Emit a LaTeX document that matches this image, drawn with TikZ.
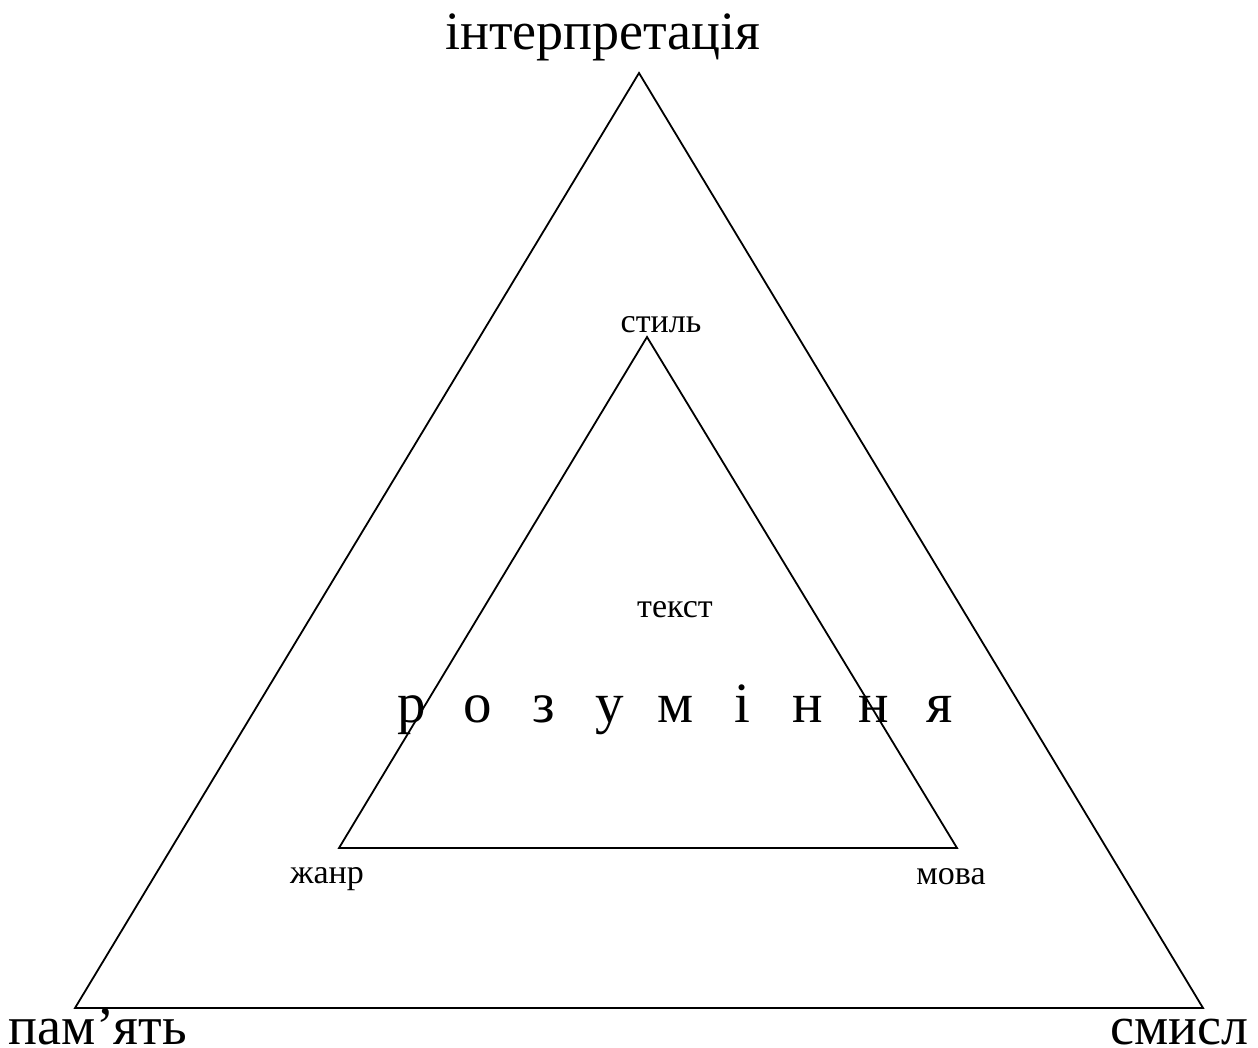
\documentclass[tikz,border=0pt]{standalone}
\usepackage{fontspec}
\setmainfont{Liberation Serif}
\tikzset{
  tri/.style={draw=black, line width=1.8pt, line join=miter},
  big/.style={anchor=base, inner sep=0pt, font=\fontsize{54}{60}\selectfont},
  small/.style={anchor=base, inner sep=0pt, font=\fontsize{34}{40}\selectfont},
  spread/.style={anchor=base, inner sep=0pt, font=\fontsize{57}{62}\selectfont}
}
\newcommand{\lb}[1]{\makebox[66pt][c]{#1}}
\begin{document}
\begin{tikzpicture}[x=1pt,y=-1pt]
\useasboundingbox (0,0) rectangle (1258,1048);
% outer triangle
\coordinate (oA) at (639,73);
\coordinate (oL) at (75,1008);
\coordinate (oR) at (1203,1008);
\draw[tri] (oA) -- (oL) -- (oR) -- cycle;
% inner triangle
\coordinate (iA) at (647,337);
\coordinate (iL) at (339,848);
\coordinate (iR) at (957,848);
\draw[tri] (iA) -- (iL) -- (iR) -- cycle;
% labels
\node[big] (interp) at (603,50) {інтерпретація};
\node[big] (pam) at (98,1044) {пам’ять};
\node[big] (smysl) at (1179,1044) {смисл};
\node[small] (styl) at (661,333) {стиль};
\node[small] (tekst) at (675,617) {текст};
\node[small] (zhanr) at (327,883) {жанр};
\node[small] (mova) at (951,884) {мова};
\node[spread] (rozum) at (676,722) {\lb{р}\lb{о}\lb{з}\lb{у}\lb{м}\lb{і}\lb{н}\lb{н}\lb{я}};
\end{tikzpicture}
\end{document}
